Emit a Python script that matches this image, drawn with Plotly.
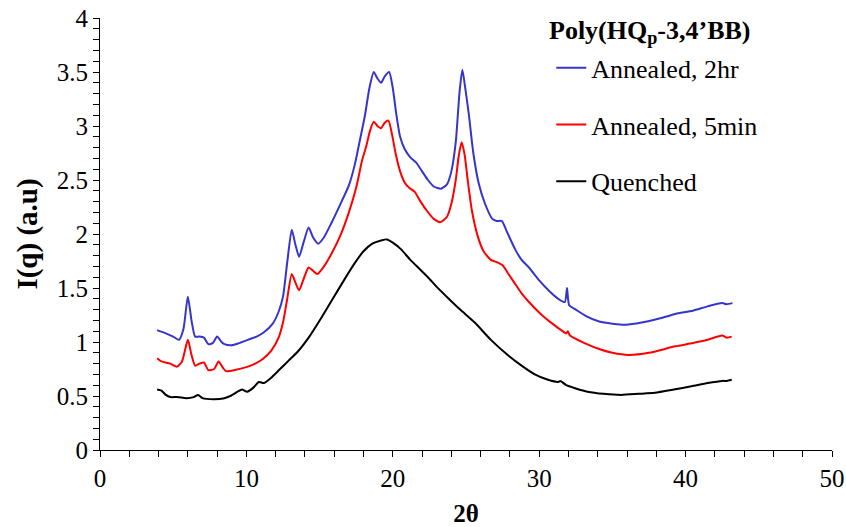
import plotly.graph_objects as go

# 2-theta positions and intensities for each sample
x_2hr = [3.9, 4.5, 5.0, 5.4, 5.7, 6.0, 6.25, 6.5, 6.8, 7.1, 7.4, 7.7, 8.0, 8.3, 8.5, 9.0, 9.5,
         10.1, 10.7, 11.2, 11.8, 12.2, 12.5, 12.8, 13.1, 13.35, 13.6, 13.9, 14.25, 14.55, 14.9,
         15.3, 15.8, 16.5, 17.0, 17.4, 17.8, 18.1, 18.4, 18.7, 18.95, 19.2, 19.45, 19.75, 20.0,
         20.25, 20.5, 20.8, 21.2, 21.6, 22.0, 22.4, 22.8, 23.3, 23.7, 24.0, 24.3, 24.55, 24.75,
         24.95, 25.2, 25.5, 25.85, 26.3, 26.8, 27.1, 27.45, 27.8, 28.35, 28.8, 29.3, 30.0, 30.7,
         31.3, 31.75, 31.9, 32.05, 32.5, 33.2, 34.1, 35.0, 35.9, 37.0, 38.0, 39.3, 40.5, 41.5,
         42.5, 42.8, 43.2]
y_2hr = [1.11, 1.08, 1.05, 1.02, 1.12, 1.42, 1.20, 1.05, 1.05, 1.04, 0.98, 0.99, 1.05, 1.00, 0.98,
         0.97, 0.99, 1.02, 1.05, 1.09, 1.17, 1.28, 1.42, 1.75, 2.04, 1.90, 1.79, 1.92, 2.06, 1.97,
         1.91, 1.97, 2.10, 2.30, 2.45, 2.64, 2.90, 3.10, 3.35, 3.50, 3.44, 3.40, 3.46, 3.50, 3.35,
         3.10, 2.90, 2.79, 2.71, 2.66, 2.58, 2.50, 2.44, 2.42, 2.46, 2.58, 2.85, 3.30, 3.52, 3.35,
         3.10, 2.75, 2.48, 2.28, 2.14, 2.12, 2.12, 2.02, 1.86, 1.76, 1.69, 1.57, 1.47, 1.40, 1.37,
         1.50, 1.34, 1.30, 1.24, 1.19, 1.17, 1.16, 1.18, 1.21, 1.26, 1.29, 1.33, 1.36, 1.35, 1.36]

x_5min = [3.9, 4.2, 4.8, 5.25, 5.6, 6.0, 6.25, 6.5, 6.8, 7.1, 7.4, 7.8, 8.1, 8.4, 8.6, 9.2, 10.05,
          10.6, 11.1, 11.7, 12.2, 12.5, 12.8, 13.1, 13.35, 13.6, 13.9, 14.25, 14.55, 14.85, 15.3,
          15.9, 16.4, 17.0, 17.5, 17.9, 18.2, 18.45, 18.7, 18.95, 19.2, 19.45, 19.7, 19.95, 20.2,
          20.5, 20.8, 21.1, 21.5, 21.9, 22.3, 22.8, 23.25, 23.7, 24.0, 24.3, 24.5, 24.7, 24.9,
          25.1, 25.4, 25.8, 26.2, 26.7, 27.1, 27.5, 27.9, 28.3, 28.8, 29.3, 30.1, 30.9, 31.5,
          31.85, 31.95, 32.1, 33.1, 34.2, 35.0, 36.1, 37.5, 39.3, 40.5, 41.5, 42.5, 42.8, 43.15]
y_5min = [0.85, 0.82, 0.80, 0.77, 0.82, 1.02, 0.88, 0.78, 0.80, 0.81, 0.74, 0.75, 0.82, 0.76, 0.73,
          0.74, 0.77, 0.80, 0.84, 0.92, 1.04, 1.18, 1.41, 1.63, 1.55, 1.48, 1.58, 1.69, 1.66, 1.63,
          1.70, 1.84, 1.98, 2.20, 2.43, 2.68, 2.82, 2.96, 3.04, 3.00, 2.98, 3.03, 3.05, 2.92, 2.74,
          2.58, 2.48, 2.43, 2.39, 2.30, 2.22, 2.14, 2.11, 2.16, 2.28, 2.50, 2.72, 2.85, 2.74, 2.52,
          2.22, 1.98, 1.84, 1.76, 1.74, 1.71, 1.63, 1.55, 1.45, 1.37, 1.26, 1.17, 1.11, 1.08, 1.10,
          1.06, 0.99, 0.93, 0.90, 0.88, 0.90, 0.96, 0.99, 1.02, 1.06, 1.04, 1.05]

x_quench = [3.9, 4.2, 4.5, 4.8, 5.3, 5.9, 6.4, 6.7, 7.0, 7.8, 8.5, 8.9, 9.4, 9.7, 10.05, 10.5,
            10.85, 11.2, 11.7, 12.3, 12.9, 13.5, 14.3, 15.1, 15.9, 16.7, 17.4, 18.0, 18.6, 19.2,
            19.6, 20.0, 20.55, 21.2, 21.8, 22.4, 23.0, 23.75, 24.6, 25.6, 26.7, 27.85, 28.7, 29.7,
            30.6, 31.3, 31.45, 31.85, 32.5, 33.3, 34.4, 35.6, 36.8, 37.9, 39.2, 40.4, 41.5, 42.5,
            42.8, 43.15]
y_quench = [0.56, 0.55, 0.51, 0.49, 0.49, 0.48, 0.49, 0.51, 0.48, 0.47, 0.48, 0.50, 0.54, 0.56,
            0.54, 0.58, 0.63, 0.62, 0.67, 0.75, 0.83, 0.91, 1.05, 1.22, 1.40, 1.58, 1.73, 1.84,
            1.91, 1.94, 1.95, 1.92, 1.86, 1.76, 1.68, 1.60, 1.51, 1.41, 1.30, 1.18, 1.02, 0.88,
            0.79, 0.70, 0.65, 0.63, 0.64, 0.60, 0.57, 0.54, 0.52, 0.51, 0.52, 0.53, 0.56, 0.59,
            0.62, 0.64, 0.64, 0.65]

series = [
    ("Annealed, 2hr", x_2hr, y_2hr, "#3535CC"),
    ("Annealed, 5min", x_5min, y_5min, "#FF0000"),
    ("Quenched", x_quench, y_quench, "#000000"),
]

FONT = "Liberation Serif"

fig = go.Figure()
for i, (name, xs, ys, color) in enumerate(series):
    fig.add_trace(go.Scatter(
        x=xs, y=ys, name=name, mode="lines",
        line=dict(color=color, width=2, shape="spline", smoothing=0.6),
        legendgroup=f"g{i}",
    ))

axis_common = dict(
    showgrid=False, zeroline=False, showline=True, linecolor="black", linewidth=1,
    ticks="outside", ticklen=6, tickcolor="black", tickwidth=1, automargin=False,
    tickfont=dict(family=FONT, size=25, color="black"),
)

fig.update_xaxes(
    range=[0, 50], dtick=10, tick0=0,
    minor=dict(dtick=2, ticks="outside", ticklen=6, tickcolor="black"),
    title=dict(text="<b>2θ</b>", font=dict(family=FONT, size=25, color="black"), standoff=16),
    **axis_common,
)
fig.update_yaxes(
    range=[0, 4], dtick=0.5, tick0=0,
    minor=dict(dtick=0.1, ticks="outside", ticklen=6, tickcolor="black"),
    title=dict(text="<b>I(q) (a.u)</b>", font=dict(family=FONT, size=29, color="black"), standoff=10),
    **axis_common,
)

# series heading placed above the legend entries
fig.add_annotation(
    text="<b>Poly(HQ<sub>p</sub>-3,4’BB)</b>",
    xref="paper", yref="paper", x=0.610, y=0.968, xanchor="left", yanchor="middle",
    showarrow=False, font=dict(family=FONT, size=26, color="black"),
)

fig.update_layout(
    width=846, height=527,
    margin=dict(l=100, r=14, t=18, b=77),
    paper_bgcolor="white", plot_bgcolor="white",
    font=dict(family=FONT, color="black"),
    legend=dict(
        x=0.6165, y=0.939, xanchor="left", yanchor="top",
        font=dict(family=FONT, size=26, color="black"),
        tracegroupgap=20, bgcolor="rgba(0,0,0,0)",
    ),
)

fig.write_html("out.html")
